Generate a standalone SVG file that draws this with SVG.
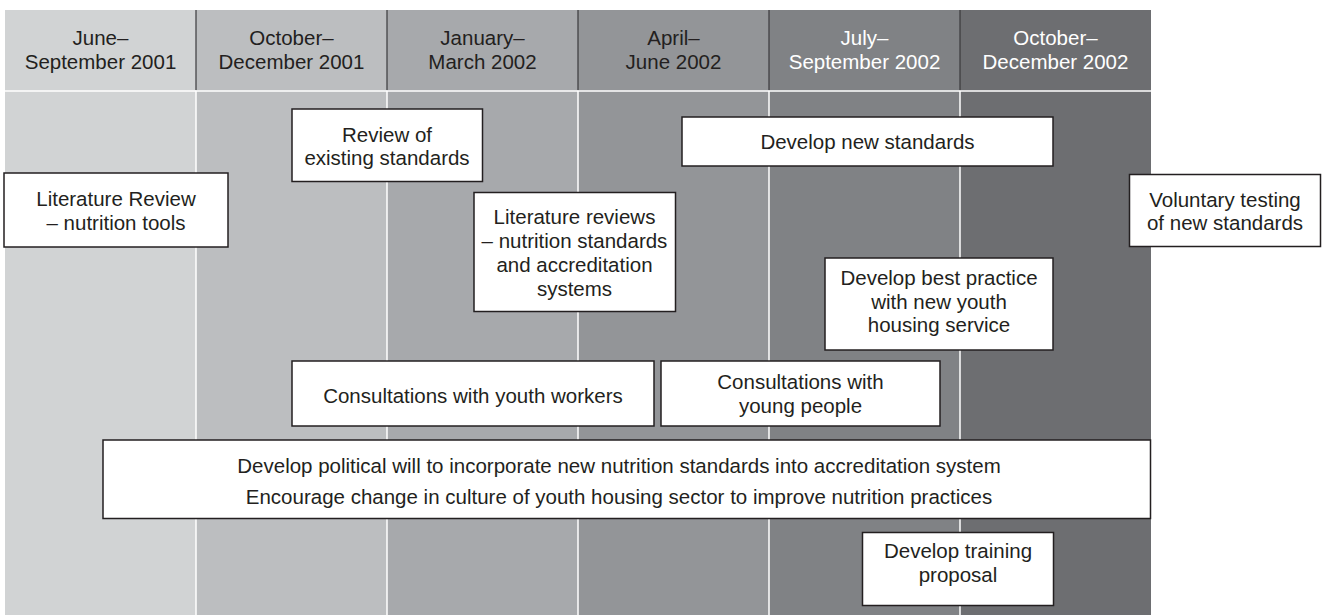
<svg xmlns="http://www.w3.org/2000/svg" width="1322" height="615" viewBox="0 0 1322 615">
<style>
.t{font-family:"Liberation Sans",Arial,sans-serif;font-size:20.5px;fill:#231f20;text-anchor:middle}
.w{fill:#ffffff}
.box{fill:#ffffff;stroke:#231f20;stroke-width:1.5}
.hs{stroke:#3a3a3c;stroke-width:1.2}
.bs{stroke:#ffffff;stroke-width:1.5}
</style>
<rect width="1322" height="615" fill="#ffffff"/>
<g id="columns">
<rect x="5" y="10" width="191" height="605" fill="#d1d3d4"/>
<rect x="196" y="10" width="191" height="605" fill="#bcbec0"/>
<rect x="387" y="10" width="191" height="605" fill="#a7a9ac"/>
<rect x="578" y="10" width="191" height="605" fill="#939598"/>
<rect x="769" y="10" width="191" height="605" fill="#808285"/>
<rect x="960" y="10" width="191" height="605" fill="#6d6e71"/>
<line class="hs" x1="196" y1="10" x2="196" y2="90"/>
<line class="hs" x1="387" y1="10" x2="387" y2="90"/>
<line class="hs" x1="578" y1="10" x2="578" y2="90"/>
<line class="hs" x1="769" y1="10" x2="769" y2="90"/>
<line class="hs" x1="960" y1="10" x2="960" y2="90"/>
<line class="bs" x1="5" y1="91" x2="1151" y2="91"/>
<line class="bs" x1="196" y1="91" x2="196" y2="615"/>
<line class="bs" x1="387" y1="91" x2="387" y2="615"/>
<line class="bs" x1="578" y1="91" x2="578" y2="615"/>
<line class="bs" x1="769" y1="91" x2="769" y2="615"/>
<line class="bs" x1="960" y1="91" x2="960" y2="615"/>
</g>
<g id="headers">
<text class="t" x="100.5" y="45">June–</text><text class="t" x="100.5" y="69">September 2001</text>
<text class="t" x="291.5" y="45">October–</text><text class="t" x="291.5" y="69">December 2001</text>
<text class="t" x="482.5" y="45">January–</text><text class="t" x="482.5" y="69">March 2002</text>
<text class="t" x="673.5" y="45">April–</text><text class="t" x="673.5" y="69">June 2002</text>
<text class="t w" x="864.5" y="45">July–</text><text class="t w" x="864.5" y="69">September 2002</text>
<text class="t w" x="1055.5" y="45">October–</text><text class="t w" x="1055.5" y="69">December 2002</text>
</g>
<g id="connectors"></g>
<g id="lit-review-tools">
<rect class="box" x="4" y="173" width="224" height="74"/>
<text class="t" x="116" y="206">Literature Review</text>
<text class="t" x="116" y="230">– nutrition tools</text>
</g>
<g id="review-existing">
<rect class="box" x="292" y="109" width="190.5" height="72.5"/>
<text class="t" x="387" y="141.5">Review of</text>
<text class="t" x="387" y="165">existing standards</text>
</g>
<g id="develop-new-standards">
<rect class="box" x="682" y="117" width="371" height="49"/>
<text class="t" x="867.5" y="149">Develop new standards</text>
</g>
<g id="lit-reviews-standards">
<rect class="box" x="474" y="192.5" width="201.5" height="119"/>
<text class="t" x="574.5" y="224">Literature reviews</text>
<text class="t" x="574.5" y="248">– nutrition standards</text>
<text class="t" x="574.5" y="272">and accreditation</text>
<text class="t" x="574.5" y="296">systems</text>
</g>
<g id="best-practice">
<rect class="box" x="825" y="258" width="228" height="92"/>
<text class="t" x="939" y="285">Develop best practice</text>
<text class="t" x="939" y="308.5">with new youth</text>
<text class="t" x="939" y="332">housing service</text>
</g>
<g id="voluntary-testing">
<rect class="box" x="1129.5" y="174.5" width="191" height="72"/>
<text class="t" x="1225" y="206.5">Voluntary testing</text>
<text class="t" x="1225" y="230">of new standards</text>
</g>
<g id="consult-youth-workers">
<rect class="box" x="292" y="361" width="362" height="65"/>
<text class="t" x="473" y="402.5">Consultations with youth workers</text>
</g>
<g id="consult-young-people">
<rect class="box" x="661" y="361" width="279" height="65"/>
<text class="t" x="800.5" y="389">Consultations with</text>
<text class="t" x="800.5" y="412.5">young people</text>
</g>
<g id="political-will">
<rect class="box" x="103" y="440" width="1047.5" height="78.5"/>
<text class="t" x="619" y="472.5">Develop political will to incorporate new nutrition standards into accreditation system</text>
<text class="t" x="619" y="503.5">Encourage change in culture of youth housing sector to improve nutrition practices</text>
</g>
<g id="training-proposal">
<rect class="box" x="862.5" y="532.5" width="191" height="73"/>
<text class="t" x="958" y="557.5">Develop training</text>
<text class="t" x="958" y="581.5">proposal</text>
</g>
</svg>
